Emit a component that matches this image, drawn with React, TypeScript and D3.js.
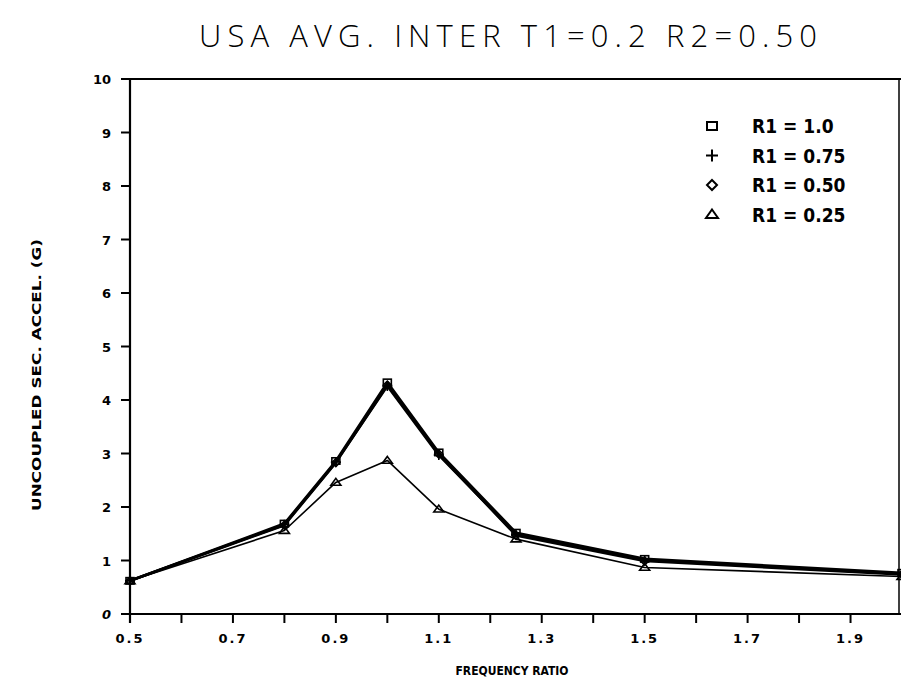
import React from "react";
import * as d3 from "d3";

const xValues = [0.5, 0.8, 0.9, 1.0, 1.1, 1.25, 1.5, 2.0];
const r1_100 = [0.62, 1.69, 2.86, 4.33, 3.02, 1.52, 1.03, 0.77];
const r1_075 = [0.62, 1.67, 2.84, 4.26, 2.97, 1.49, 1.01, 0.75];
const r1_050 = [0.62, 1.66, 2.83, 4.28, 2.99, 1.47, 0.99, 0.74];
const r1_025 = [0.62, 1.56, 2.46, 2.87, 1.96, 1.4, 0.87, 0.7];
const legendLabels = ["R1 = 1.0", "R1 = 0.75", "R1 = 0.50", "R1 = 0.25"];
const xTickValues = [0.5, 0.6, 0.7, 0.8, 0.9, 1.0, 1.1, 1.2, 1.3, 1.4, 1.5, 1.6, 1.7, 1.8, 1.9];
const xTickLabels = ["0.5", "0.7", "0.9", "1.1", "1.3", "1.5", "1.7", "1.9"];
const yTickValues = [0, 1, 2, 3, 4, 5, 6, 7, 8, 9, 10];

const W = 901;
const H = 683;
const x = d3.scaleLinear().domain([0.5, 2.0]).range([130, 902]);
const y = d3.scaleLinear().domain([0, 10]).range([614, 79]);

type MarkerKind = "square" | "plus" | "diamond" | "triangle";

function Marker({ kind, cx, cy, s = 8, sw = 1.6 }: { kind: MarkerKind; cx: number; cy: number; s?: number; sw?: number }) {
  const h = s / 2;
  if (kind === "square")
    return <rect x={cx - h} y={cy - h * 0.8} width={s} height={s * 0.8} fill="none" stroke="#000" strokeWidth={sw} />;
  if (kind === "plus")
    return (
      <path d={`M${cx - h - 1},${cy}H${cx + h + 1}M${cx},${cy - h - 1}V${cy + h + 1}`} stroke="#000" strokeWidth={sw} fill="none" />
    );
  if (kind === "diamond")
    return <path d={`M${cx},${cy - h}L${cx + h},${cy}L${cx},${cy + h}L${cx - h},${cy}Z`} fill="none" stroke="#000" strokeWidth={sw} />;
  return <path d={`M${cx},${cy - h}L${cx + h + 1},${cy + h * 0.7}L${cx - h - 1},${cy + h * 0.7}Z`} fill="none" stroke="#000" strokeWidth={sw} />;
}

const seriesList: { vals: number[]; kind: MarkerKind; width: number }[] = [
  { vals: r1_100, kind: "square", width: 2.6 },
  { vals: r1_075, kind: "plus", width: 2.6 },
  { vals: r1_050, kind: "diamond", width: 2.6 },
  { vals: r1_025, kind: "triangle", width: 1.6 },
];

export default function App() {
  const line = d3
    .line<[number, number]>()
    .x((d) => x(d[0]))
    .y((d) => y(d[1]));
  const tickFont = "'DejaVu Sans', sans-serif";
  const condFont = "'DejaVu Sans Condensed', 'DejaVu Sans', sans-serif";
  return (
    <div style={{ position: "fixed", left: 0, top: 0 }}>
      <svg width={W} height={H} style={{ display: "block", background: "#fff" }}>
        <rect width={W} height={H} fill="#fff" />
        {/* title */}
        <text x={508} y={47} textAnchor="middle" fontFamily="'Open Sans', 'DejaVu Sans', sans-serif" fontSize={31} fontWeight={300} textLength={618} lengthAdjust="spacing" fill="#000">
          USA AVG.  INTER T1=0.2 R2=0.50
        </text>
        {/* frame */}
        <line x1={x(0.5)} x2={x(0.5)} y1={y(10)} y2={y(0) + 9} stroke="#000" strokeWidth={2.2} />
        <line x1={x(0.5) - 9} x2={W} y1={y(0)} y2={y(0)} stroke="#000" strokeWidth={2.2} />
        <line x1={x(0.5) - 9} x2={W} y1={y(10)} y2={y(10)} stroke="#000" strokeWidth={2.2} />
        <line x1={899} x2={899} y1={y(10)} y2={y(0)} stroke="#000" strokeWidth={1.5} />
        {/* y ticks */}
        {yTickValues.map((v) => (
          <g key={"y" + v}>
            <line x1={x(0.5) - 9} x2={x(0.5)} y1={y(v)} y2={y(v)} stroke="#000" strokeWidth={2} />
            <text x={111} y={y(v) + 5} textAnchor="end" fontFamily={tickFont} fontWeight="bold" fontSize={13} fontStyle={v === 0 ? "italic" : "normal"} fill="#000">
              {v}
            </text>
          </g>
        ))}
        {/* x ticks */}
        {xTickValues.map((v) => (
          <line key={"x" + v} x1={x(v)} x2={x(v)} y1={y(0)} y2={y(0) + 9} stroke="#000" strokeWidth={2} />
        ))}
        {xTickLabels.map((t) => (
          <text key={"xl" + t} x={x(+t)} y={643} textAnchor="middle" fontFamily={tickFont} fontWeight="bold" fontSize={13} letterSpacing={2} fill="#000">
            {t}
          </text>
        ))}
        {/* axis titles */}
        <text x={512} y={675} textAnchor="middle" fontFamily={condFont} fontWeight="bold" fontSize={12} textLength={113} lengthAdjust="spacingAndGlyphs" fill="#000">
          FREQUENCY RATIO
        </text>
        <text transform="translate(41,375) rotate(-90)" textAnchor="middle" fontFamily={condFont} fontWeight="bold" fontSize={11.5} textLength={272} lengthAdjust="spacingAndGlyphs" fill="#000">
          UNCOUPLED SEC. ACCEL. (G)
        </text>
        {/* series */}
        {seriesList.map((s, i) => {
          const pts = xValues.map((xv, j) => [xv, s.vals[j]] as [number, number]);
          return (
            <g key={"s" + i}>
              <path d={line(pts) || ""} fill="none" stroke="#000" strokeWidth={s.width} strokeLinejoin="round" />
              {pts.map((p, j) => (
                <Marker key={j} kind={s.kind} cx={x(p[0])} cy={y(p[1])} s={8} sw={1.6} />
              ))}
            </g>
          );
        })}
        {/* legend */}
        {legendLabels.map((lab, i) => {
          const ly = 126 + i * 29.5;
          return (
            <g key={"lg" + i}>
              <Marker kind={seriesList[i].kind} cx={712} cy={ly} s={10} sw={2} />
              <text x={752} y={ly + 7} fontFamily={condFont} fontWeight="bold" fontSize={19} fill="#000">
                {lab}
              </text>
            </g>
          );
        })}
      </svg>
    </div>
  );
}
